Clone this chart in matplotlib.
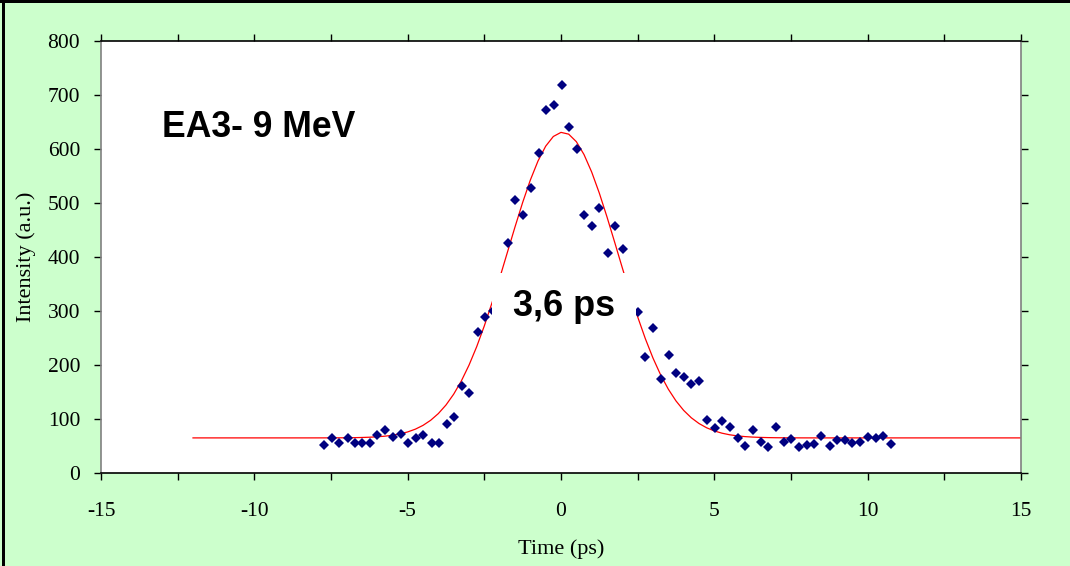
import numpy as np
import matplotlib
matplotlib.use("Agg")
import matplotlib.pyplot as plt
from matplotlib.patches import Rectangle
from matplotlib.ticker import MultipleLocator

plt.rcParams["axes.unicode_minus"] = False

# Measured streak-camera profile
time_ps = [-7.73, -7.48, -7.24, -6.96, -6.72, -6.48, -6.23, -5.99, -5.74, -5.47,
           -5.23, -4.98, -4.73, -4.49, -4.22, -3.97, -3.73, -3.49, -3.24, -2.99,
           -2.72, -2.47, -2.23, -1.74, -1.49, -1.23, -0.98, -0.73, -0.49, -0.24,
           0.03, 0.27, 0.51, 0.76, 1.01, 1.25, 1.52, 1.76, 2.01, 2.52,
           2.75, 3.01, 3.26, 3.51, 3.76, 4.00, 4.25, 4.51, 4.76, 5.01,
           5.25, 5.50, 5.76, 6.01, 6.26, 6.51, 6.76, 7.00, 7.26, 7.51,
           7.76, 8.01, 8.25, 8.49, 8.76, 9.01, 9.26, 9.50, 9.75, 10.01,
           10.26, 10.51, 10.76]
intensity = [52, 64, 55, 64, 56, 55, 55, 70, 80, 66,
             73, 56, 64, 70, 55, 56, 90, 103, 161, 149,
             262, 288, 300, 426, 505, 477, 527, 592, 673, 681,
             718, 641, 600, 478, 458, 490, 407, 458, 415, 298,
             214, 268, 175, 218, 186, 177, 165, 171, 98, 84,
             96, 86, 64, 50, 80, 58, 49, 86, 58, 63,
             49, 52, 54, 68, 50, 62, 62, 55, 58, 67,
             65, 69, 54]

# Gaussian fit parameters
fit_baseline = 65.0
fit_amplitude = 566.0
fit_center = 0.05
pulse_width = 3.6          # full width (2 sigma), ps
fit_range = (-12.0, 15.0)

title_text = "EA3- 9 MeV"
width_label = "3,6 ps"

sigma = pulse_width / 2.0
t_fit = np.arange(fit_range[0], fit_range[1] + 1e-9, 0.25)
i_fit = fit_baseline + fit_amplitude * np.exp(-(t_fit - fit_center) ** 2 / (2 * sigma ** 2))

W, H = 1070, 566
fig = plt.figure(figsize=(W / 100, H / 100), dpi=100)
fig.patch.set_facecolor("#CCFFCC")

# outer frame (top and left edges)
fig.add_artist(Rectangle((0, 1 - 3 / H), 1, 3 / H, transform=fig.transFigure,
                         facecolor="black", edgecolor="none"))
fig.add_artist(Rectangle((2 / W, 0), 3 / W, 1, transform=fig.transFigure,
                         facecolor="black", edgecolor="none"))

ax = fig.add_axes([101 / W, 1 - 473 / H, 920 / W, 432 / H])
ax.set_facecolor("white")

ax.plot(t_fit, i_fit, color="red", lw=0.9, zorder=2)
ax.plot(time_ps, intensity, linestyle="none", marker="D", markersize=4.6,
        color="#000080", markeredgewidth=0, zorder=3)

ax.set_xlim(-15, 15)
ax.set_ylim(0, 800)
ax.xaxis.set_major_locator(MultipleLocator(5))
ax.xaxis.set_minor_locator(MultipleLocator(2.5))
ax.yaxis.set_major_locator(MultipleLocator(100))

serif = ["Liberation Serif", "DejaVu Serif"]
ax.tick_params(axis="both", which="both", direction="out", length=5,
               width=1, color="black", top=True, right=True)
ax.tick_params(axis="x", which="major", pad=16, labelsize=15.5)
ax.tick_params(axis="y", which="major", pad=10, labelsize=15.5)
for lab in ax.get_xticklabels() + ax.get_yticklabels():
    lab.set_fontfamily(serif)

for side in ("top", "bottom"):
    ax.spines[side].set_color("black")
for side in ("left", "right"):
    ax.spines[side].set_color("#808080")
for sp in ax.spines.values():
    sp.set_linewidth(1.2)

ax.set_xlabel("Time (ps)", fontfamily=serif, fontsize=16)
ax.set_ylabel("Intensity (a.u.)", fontfamily=serif, fontsize=16)
ax.xaxis.set_label_coords(0.5, (473 - 539) / 432)
ax.yaxis.set_label_coords((36 - 101) / 920, 0.5)

ax.text((162 - 101) / 920, (473 - 137) / 432, title_text, transform=ax.transAxes,
        fontfamily=["Liberation Sans", "DejaVu Sans"], fontweight="bold",
        fontsize=25.6, ha="left", va="baseline", zorder=5)

# white label box over the pulse
ax.add_patch(Rectangle(((492 - 101) / 920, (473 - 341) / 432), 144 / 920, 68 / 432,
                       transform=ax.transAxes, facecolor="white", edgecolor="none",
                       zorder=4))
ax.text((564 - 101) / 920, (473 - 307) / 432, width_label, transform=ax.transAxes,
        fontfamily=["Liberation Sans", "DejaVu Sans"], fontweight="bold",
        fontsize=26, ha="center", va="center", zorder=5)

fig.savefig("out.png", dpi=100, facecolor=fig.get_facecolor())
